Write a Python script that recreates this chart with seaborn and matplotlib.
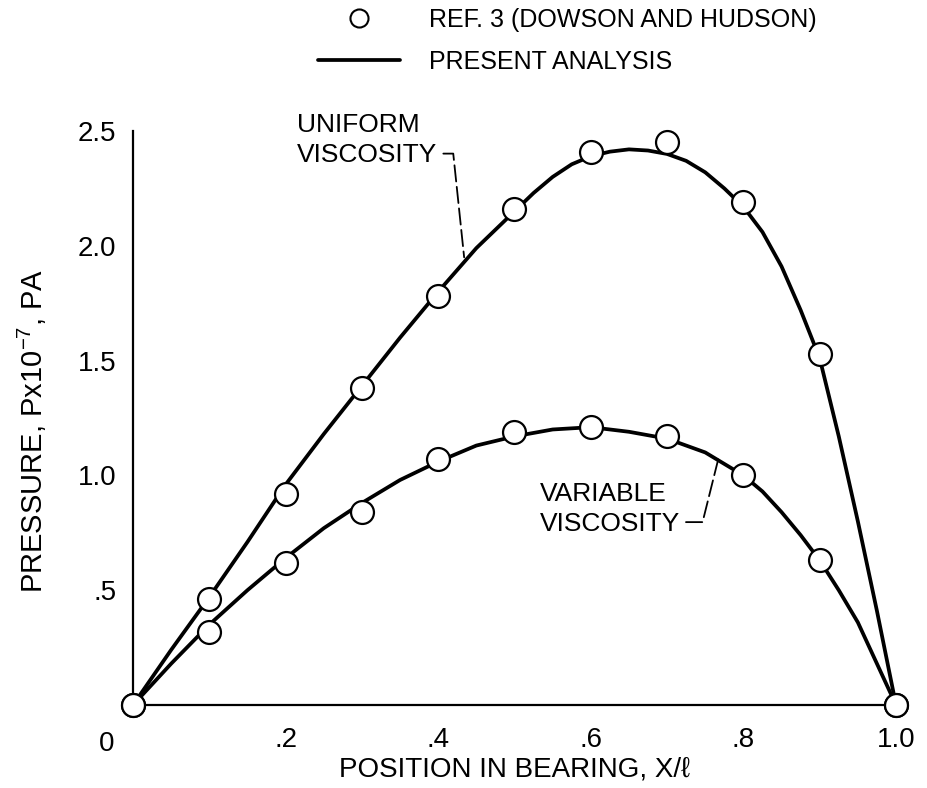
import matplotlib
matplotlib.use("Agg")
import matplotlib.pyplot as plt
import seaborn as sns
import pandas as pd
from matplotlib.lines import Line2D

# -----------------------------
# DATA
# -----------------------------
x_ref = [0.0, 0.1, 0.2, 0.3, 0.4, 0.5, 0.6, 0.7, 0.8, 0.9, 1.0]
p_ref_uniform = [0.0, 0.46, 0.92, 1.38, 1.78, 2.16, 2.41, 2.45, 2.19, 1.53, 0.0]
p_ref_variable = [0.0, 0.32, 0.62, 0.84, 1.07, 1.19, 1.21, 1.17, 1.00, 0.63, 0.0]

# present analysis, uniform viscosity
x_uniform = [0.0, 0.05, 0.1, 0.15, 0.2, 0.25, 0.3, 0.35, 0.4, 0.45, 0.5,
             0.525, 0.55, 0.575, 0.6, 0.625, 0.65, 0.675, 0.7, 0.725, 0.75,
             0.775, 0.8, 0.825, 0.85, 0.875, 0.9, 0.925, 0.95, 0.975, 1.0]
p_uniform = [0.0, 0.24, 0.47, 0.71, 0.96, 1.18, 1.39, 1.60, 1.80, 1.99, 2.15,
             2.23, 2.30, 2.355, 2.39, 2.41, 2.42, 2.415, 2.40, 2.37, 2.32,
             2.25, 2.17, 2.06, 1.91, 1.72, 1.51, 1.17, 0.80, 0.41, 0.0]

# present analysis, variable viscosity
x_variable = [0.0, 0.05, 0.1, 0.15, 0.2, 0.25, 0.3, 0.35, 0.4, 0.45, 0.5,
              0.55, 0.6, 0.65, 0.7, 0.75, 0.8, 0.825, 0.85, 0.875, 0.9,
              0.925, 0.95, 0.975, 1.0]
p_variable = [0.0, 0.18, 0.35, 0.50, 0.64, 0.77, 0.88, 0.98, 1.06, 1.13, 1.17,
              1.20, 1.21, 1.19, 1.16, 1.10, 1.00, 0.93, 0.84, 0.74, 0.63,
              0.50, 0.36, 0.18, 0.0]

x_ticks = [0.2, 0.4, 0.6, 0.8, 1.0]
x_ticklabels = [".2", ".4", ".6", ".8", "1.0"]
y_ticks = [0.5, 1.0, 1.5, 2.0, 2.5]
y_ticklabels = [".5", "1.0", "1.5", "2.0", "2.5"]

ref_label = "REF. 3 (DOWSON AND HUDSON)"
line_label = "PRESENT ANALYSIS"

# -----------------------------
# STYLE
# -----------------------------
sns.set_theme(style="white")
plt.rcParams['font.family'] = ['Liberation Sans', 'DejaVu Sans']
plt.rcParams['mathtext.fontset'] = 'custom'
plt.rcParams['mathtext.rm'] = 'Liberation Sans'
plt.rcParams['text.color'] = 'black'
plt.rcParams['axes.labelcolor'] = 'black'

curves = pd.DataFrame({"x": x_uniform + x_variable,
                       "p": p_uniform + p_variable,
                       "case": ["uniform"] * len(x_uniform) + ["variable"] * len(x_variable)})
refs = pd.DataFrame({"x": x_ref * 2,
                     "p": p_ref_uniform + p_ref_variable,
                     "case": ["uniform"] * len(x_ref) + ["variable"] * len(x_ref)})

fig = plt.figure(figsize=(9.28, 7.88), dpi=100)
ax = fig.add_axes([133 / 928, 1 - 705 / 788, 763 / 928, 574 / 788])

# -----------------------------
# PLOT
# -----------------------------
sns.lineplot(data=curves, x="x", y="p", units="case", estimator=None, sort=False,
             color="black", lw=2.7, ax=ax, clip_on=False, zorder=2)
sns.scatterplot(data=refs, x="x", y="p", marker="o", s=16.5 ** 2,
                facecolor="white", edgecolor="black", linewidth=1.6,
                ax=ax, clip_on=False, zorder=3, legend=False)

ax.set_xlim(0, 1.0)
ax.set_ylim(0, 2.5)
sns.despine(ax=ax)
for s in ["left", "bottom"]:
    ax.spines[s].set_linewidth(1.6)
    ax.spines[s].set_color("black")

ax.set_xticks(x_ticks)
ax.set_xticklabels(x_ticklabels)
ax.set_yticks(y_ticks)
ax.set_yticklabels(y_ticklabels)
ax.tick_params(axis="both", direction="in", length=29, width=1.6,
               colors="black", labelsize=20)
ax.tick_params(axis="x", pad=16)
ax.tick_params(axis="y", pad=12)
# shared origin label
ax.text(-0.035, -0.045, "0", transform=ax.transAxes, ha="center", va="top",
        fontsize=20)

ax.set_xlabel("POSITION IN BEARING, X/\u2113", fontsize=20)
ax.xaxis.set_label_coords(0.5, -0.09)
ax.set_ylabel("PRESSURE, Px10$^{-7}$, PA", fontsize=21)
ax.yaxis.set_label_coords(-0.11, 0.477)

# curve annotations with dashed leaders
dash = dict(arrowstyle="-", color="black", lw=1.3, linestyle=(0, (9, 3)),
            shrinkA=2, shrinkB=0)
ax.annotate("UNIFORM\nVISCOSITY", xy=(0.434, 1.95), xytext=(0.215, 2.46),
            ha="left", va="center", fontsize=19, linespacing=1.3,
            annotation_clip=False,
            arrowprops=dict(dash, relpos=(1, 0.25),
                            connectionstyle="angle,angleA=0,angleB=96,rad=0"))
ax.annotate("VARIABLE\nVISCOSITY", xy=(0.767, 1.07), xytext=(0.533, 0.855),
            ha="left", va="center", fontsize=19, linespacing=1.3,
            annotation_clip=False,
            arrowprops=dict(dash, relpos=(1, 0.25),
                            connectionstyle="angle,angleA=0,angleB=76,rad=0"))

# legend
handles = [Line2D([], [], marker="o", ls="none", markersize=13,
                  markerfacecolor="white", markeredgecolor="black", markeredgewidth=1.5),
           Line2D([], [], color="black", lw=2.7)]
fig.legend(handles, [ref_label, line_label], loc="upper left",
           bbox_to_anchor=(318 / 928, 1 - 8 / 788), frameon=False,
           borderpad=0, borderaxespad=0, handlelength=3.3, handletextpad=1.15,
           labelspacing=0.72, fontsize=18)

plt.savefig("out.png", dpi=100, facecolor="white")
plt.close()
